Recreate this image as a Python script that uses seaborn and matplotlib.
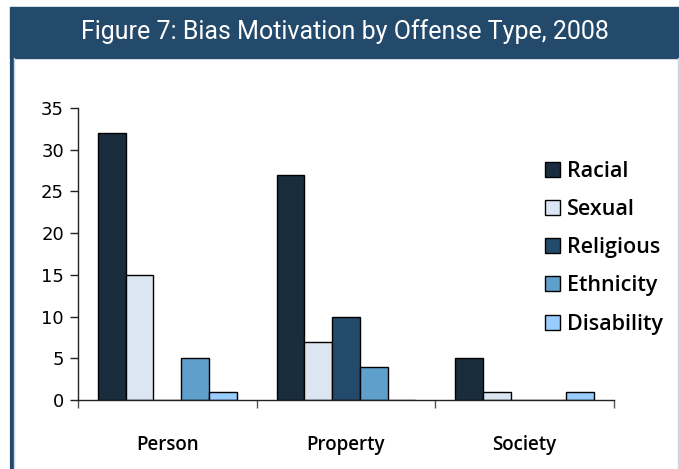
import matplotlib
matplotlib.use("Agg")
import matplotlib.pyplot as plt
from matplotlib.patches import Rectangle
from matplotlib.lines import Line2D
import pandas as pd
import seaborn as sns

# data
offense_types = ["Person", "Property", "Society"]
bias_types = ["Racial", "Sexual", "Religious", "Ethnicity", "Disability"]
racial = [32, 27, 5]
sexual = [15, 7, 1]
religious = [0, 10, 0]
ethnicity = [5, 4, 0]
disability = [1, 0, 1]
y_ticks = [0, 5, 10, 15, 20, 25, 30, 35]

bias_colors = ["#1a2d3e", "#dce6f2", "#244a6b", "#5f9fcb", "#99ccff"]
header_color = "#244a6b"

rows = []
for bias, vals in zip(bias_types, [racial, sexual, religious, ethnicity, disability]):
    for off, v in zip(offense_types, vals):
        rows.append({"offense": off, "bias": bias, "count": v})
df = pd.DataFrame(rows)

sns.set_theme(style="white")
plt.rcParams["font.family"] = ["DejaVu Sans"]

W, H = 679, 469
fig = plt.figure(figsize=(W / 100, H / 100), dpi=100)

# header band and frame
fig.patches.append(Rectangle((10 / W, 1 - 58 / H), 1 - 10 / W, 51 / H,
                             transform=fig.transFigure, color=header_color, zorder=0))
fig.lines.append(Line2D([11.5 / W, 11.5 / W], [0, 1 - 58 / H], transform=fig.transFigure,
                        color=header_color, lw=3))
fig.lines.append(Line2D([13.5 / W, 13.5 / W], [0, 1 - 58 / H], transform=fig.transFigure,
                        color="#c8d6e6", lw=1))
fig.lines.append(Line2D([677.5 / W, 677.5 / W], [0, 1 - 58 / H], transform=fig.transFigure,
                        color="#c8d6e6", lw=1))
fig.text(345 / W, 1 - 32 / H, "Figure 7: Bias Motivation by Offense Type, 2008",
         color="white", fontsize=18, family="Roboto", ha="center", va="center")

ax = fig.add_axes([78 / W, 69 / H, 536 / W, 292 / H])
sns.barplot(data=df, x="offense", y="count", hue="bias", order=offense_types,
            hue_order=bias_types, palette=bias_colors, saturation=1,
            edgecolor="black", linewidth=1, width=0.775, ax=ax)

ax.set_ylim(0, 35)
ax.set_xlim(-0.5, 2.5)
ax.set_yticks(y_ticks)
ax.set_xlabel("")
ax.set_ylabel("")
sns.despine(ax=ax)
for s in ["left", "bottom"]:
    ax.spines[s].set_color("#222222")
    ax.spines[s].set_linewidth(1)

ax.tick_params(axis="y", which="major", left=True, length=6, width=1, color="#222222",
               labelsize=13, pad=4, labelcolor="black")
ax.set_xticks([-0.5, 0.5, 1.5, 2.5], minor=True)
ax.tick_params(axis="x", which="minor", bottom=True, length=6, width=1, color="#555555")
ax.tick_params(axis="x", which="major", bottom=False, length=0, pad=25, labelcolor="black")
for lbl in ax.get_xticklabels():
    lbl.set_fontsize(13.5)
    lbl.set_family("Open Sans")
    lbl.set_fontweight("semibold")

leg = ax.legend(loc="upper left", bbox_to_anchor=(534 / W, 1 - 150 / H),
                bbox_transform=fig.transFigure, frameon=False,
                prop={"size": 15.5, "family": "Open Sans", "weight": "semibold"},
                handlelength=0.7, handleheight=0.7, handletextpad=0.35,
                labelspacing=0.8, borderpad=0)
for t in leg.get_texts():
    t.set_color("black")

fig.savefig("out.png", dpi=100)
